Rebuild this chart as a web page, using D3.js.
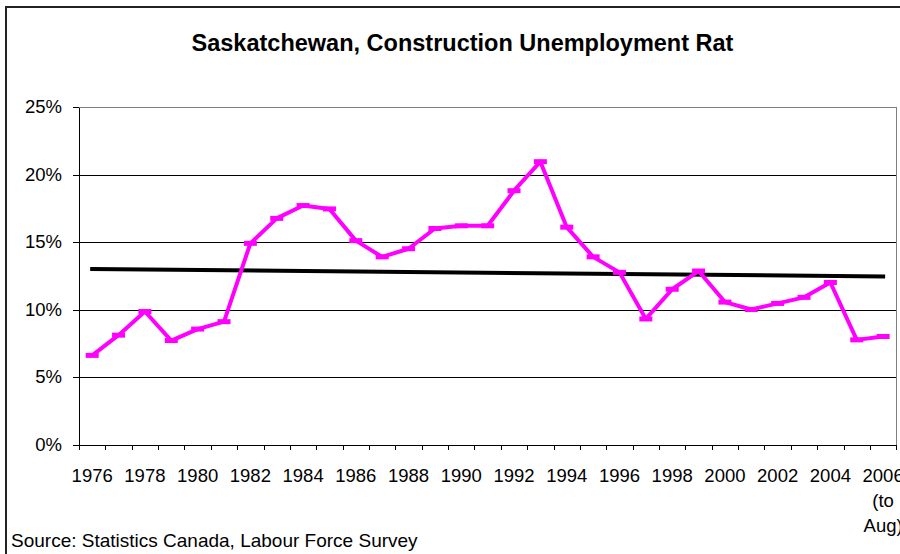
<!DOCTYPE html>
<html>
<head>
<meta charset="utf-8">
<script src="https://cdn.jsdelivr.net/npm/d3@7"></script>
<style>
  body { margin: 0; background: #fff; }
  svg { display: block; font-family: "Liberation Sans", Arial, sans-serif; }
</style>
</head>
<body>
<svg id="chart" width="900" height="554"></svg>
<script>
// categories (years), last one is a partial year
const years = ["1976","1977","1978","1979","1980","1981","1982","1983","1984","1985",
  "1986","1987","1988","1989","1990","1991","1992","1993","1994","1995",
  "1996","1997","1998","1999","2000","2001","2002","2003","2004","2005","2006"]

// construction unemployment rate, %
const rates = [6.6, 8.1, 9.85, 7.7, 8.55, 9.1, 14.9, 16.75, 17.7, 17.45,
  15.1, 13.9, 14.5, 16.0, 16.2, 16.2, 18.8, 20.95, 16.1, 13.9,
  12.75, 9.3, 11.5, 12.85, 10.55, 10.0, 10.45, 10.9, 12.0, 7.75, 8.0]

// linear trend, start and end
const trendYears = ["1976", "2006"]
const trendValues = [13.0, 12.45]

// axis labels
const yTicks = [0, 5, 10, 15, 20, 25]
const xLabelYears = ["1976","1978","1980","1982","1984","1986","1988","1990","1992",
  "1994","1996","1998","2000","2002","2004","2006"]
const xLabelText = {"2006": ["2006", "(to", "Aug)"]}

const title = "Saskatchewan, Construction Unemployment Rat"
const source = "Source:  Statistics Canada, Labour Force Survey"

const margin = {top: 107, right: 3, bottom: 109.5, left: 79}
const width = 900, height = 554

const svg = d3.select('#chart')

// outer chart frame
svg.append('rect')
    .attr('x', 6).attr('y', 7)
    .attr('width', 1000).attr('height', 1000)
    .attr('fill', 'none')
    .attr('stroke', '#222')
    .attr('stroke-width', 2)

const x = d3.scaleBand()
    .domain(years)
    .range([margin.left, width - margin.right - 0.7])
    .padding(0)

const y = d3.scaleLinear()
    .domain([0, 25])
    .range([height - margin.bottom, margin.top])

// index scale for the tick marks between categories
const xi = d3.scaleLinear()
    .domain([0, years.length])
    .range(x.range())

// gridlines
svg.append('g')
    .attr('transform', `translate(${margin.left}, 0)`)
    .call(d3.axisLeft(y).tickValues(yTicks.slice(1)).tickSize(-(x.range()[1] - margin.left)).tickFormat(''))
    .call(g => g.select('.domain').remove())
    .call(g => g.selectAll('line').attr('stroke', '#000').attr('shape-rendering', 'crispEdges'))

// plot area border (top/right)
svg.append('path')
    .attr('d', `M${margin.left},${y(25)}H${x.range()[1]}V${y(0)}`)
    .attr('fill', 'none')
    .attr('stroke', '#808080')
    .attr('shape-rendering', 'crispEdges')

// y-axis
svg.append('g')
    .attr('transform', `translate(${margin.left}, 0)`)
    .call(d3.axisLeft(y).tickValues(yTicks).tickSize(6).tickPadding(11).tickFormat(d => d + '%').tickSizeOuter(0))
    .call(g => g.selectAll('line, path').attr('stroke', '#000').attr('shape-rendering', 'crispEdges'))
    .call(g => g.selectAll('text').attr('font-size', 18.5).attr('fill', '#000').attr('font-family', null))

// x-axis ticks between categories
svg.append('g')
    .attr('transform', `translate(0, ${y(0)})`)
    .call(d3.axisBottom(xi).ticks(years.length).tickValues(d3.range(years.length + 1)).tickSize(5.5).tickFormat('').tickSizeOuter(0))
    .call(g => g.selectAll('line, path').attr('stroke', '#000').attr('shape-rendering', 'crispEdges'))

// x-axis labels
const xLab = svg.append('g')
    .attr('transform', `translate(0, ${y(0)})`)
    .call(d3.axisBottom(x).tickValues(xLabelYears).tickSize(0).tickFormat(''))
    .call(g => g.select('.domain').remove())

xLab.selectAll('.tick text')
    .attr('font-size', 18.5)
    .attr('font-family', null)
    .attr('fill', '#000')
    .attr('dy', null)
    .attr('y', 0)
    .each(function(d) {
        const lines = xLabelText[d] || [d]
        d3.select(this).selectAll('tspan')
            .data(lines)
            .join('tspan')
            .attr('x', 0)
            .attr('y', (l, i) => 37.5 + i * 25)
            .text(l => l)
    })

// trend line
const trendLine = d3.line()
    .x(d => x(d.year) + x.bandwidth() / 2)
    .y(d => y(d.value))

svg.append('path')
    .datum(trendYears.map((yr, i) => ({year: yr, value: trendValues[i]})))
    .attr('fill', 'none')
    .attr('stroke', '#000')
    .attr('stroke-width', 4)
    .attr('stroke-linecap', 'square')
    .attr('d', trendLine)

// data line
const data = years.map((yr, i) => ({year: yr, value: rates[i]}))

const line = d3.line()
    .x(d => x(d.year) + x.bandwidth() / 2)
    .y(d => y(d.value))

svg.append('path')
    .datum(data)
    .attr('fill', 'none')
    .attr('stroke', '#ff00ff')
    .attr('stroke-width', 4)
    .attr('stroke-linejoin', 'round')
    .attr('d', line)

// dash markers
svg.append('g')
    .selectAll('rect')
    .data(data)
    .join('rect')
        .attr('x', d => x(d.year) + x.bandwidth() / 2 - 6.5)
        .attr('y', d => y(d.value) - 2.5)
        .attr('width', 13)
        .attr('height', 5)
        .attr('fill', '#ff00ff')

// title
svg.append('text')
    .attr('x', 462.5)
    .attr('y', 51)
    .attr('text-anchor', 'middle')
    .attr('font-size', 23.5)
    .attr('font-weight', 'bold')
    .attr('fill', '#000')
    .text(title)

// source note
svg.append('text')
    .attr('x', 11)
    .attr('y', 546.5)
    .attr('font-size', 19)
    .attr('fill', '#000')
    .text(source)
</script>
</body>
</html>
